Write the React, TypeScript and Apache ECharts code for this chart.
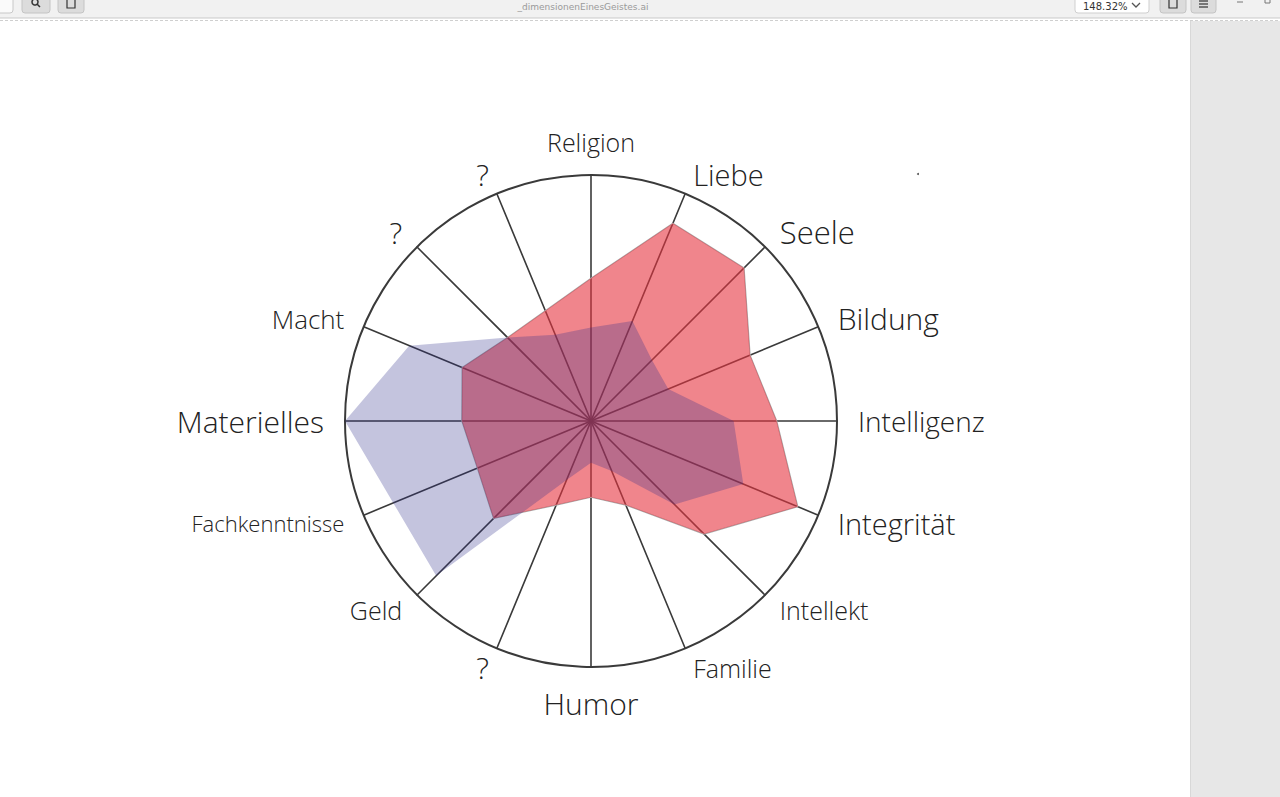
import React, { useEffect, useRef } from "react";
import * as echarts from "echarts";

// Indicators listed counter-clockwise starting at the top (ECharts radar order)
const indicators = [
  "Religion", "?", "?", "Macht", "Materielles", "Fachkenntnisse", "Geld", "?",
  "Humor", "Familie", "Intellekt", "Integrität", "Intelligenz", "Bildung", "Seele", "Liebe",
];

// Values (0..1 of radius), same order as indicators
const redValues = [
  0.58, 0.485, 0.48, 0.567, 0.525, 0.50, 0.56, 0.37,
  0.31, 0.37, 0.65, 0.91, 0.755, 0.70, 0.88, 0.87,
];
const purpleValues = [
  0.38, 0.38, 0.48, 0.80, 1.0, 0.87, 0.89, 0.26,
  0.17, 0.22, 0.48, 0.67, 0.58, 0.34, 0.35, 0.44,
];

const labelSizes: Record<string, number> = {
  Religion: 25, "?": 30, Macht: 26, Materielles: 30, Fachkenntnisse: 22, Geld: 25,
  Humor: 30, Familie: 25, Intellekt: 25, "Integrität": 29, Intelligenz: 28,
  Bildung: 30, Seele: 31, Liebe: 29,
};

const fileTitle = "_dimensionenEinesGeistes.ai";
const zoomText = "148.32%";

export default function App() {
  const ref = useRef<HTMLDivElement>(null);
  useEffect(() => {
    if (!ref.current) return;
    const chart = echarts.init(ref.current, null, { renderer: "svg" });
    const rich: Record<string, any> = {};
    Object.keys(labelSizes).forEach((k, i) => {
      rich["s" + i] = {
        fontSize: labelSizes[k],
        fontFamily: "Open Sans, DejaVu Sans, sans-serif",
        fontWeight: 300,
        color: "#222",
      };
    });
    const keyOf = (name: string) => "s" + Object.keys(labelSizes).indexOf(name);
    chart.setOption({
      animation: false,
      backgroundColor: "#ffffff",
      radar: {
        center: [591, 421],
        radius: 246,
        startAngle: 90,
        shape: "circle",
        splitNumber: 1,
        nameGap: 21,
        indicator: indicators.map((n) => ({ name: n, min: 0, max: 1 })),
        axisName: {
          color: "#222",
          fontFamily: "Open Sans, DejaVu Sans, sans-serif",
          fontWeight: 300,
          formatter: (v: string) => `{${keyOf(v)}|${v}}`,
          rich,
        },
        axisLine: { lineStyle: { color: "#3a3a3a", width: 1.6 } },
        splitLine: { lineStyle: { color: "#3a3a3a", width: 2 } },
        splitArea: { show: false },
        axisTick: { show: false },
        axisLabel: { show: false },
      },
      series: [
        {
          type: "radar",
          symbol: "none",
          silent: true,
          data: [
            {
              value: redValues,
              lineStyle: { color: "#ababab", width: 1.2 },
              areaStyle: { color: "rgba(230,52,63,0.6)", opacity: 1 },
            },
            {
              value: purpleValues,
              lineStyle: { width: 0, color: "rgba(0,0,0,0)" },
              areaStyle: { color: "rgba(44,44,137,0.28)", opacity: 1 },
            },
          ],
        },
      ],
      graphic: [
        // toolbar
        { type: "rect", shape: { x: 0, y: 0, width: 1280, height: 18 }, style: { fill: "#f1f1f1" }, silent: true },
        { type: "line", shape: { x1: 0, y1: 18, x2: 1280, y2: 18 }, style: { stroke: "#c9c9c9", lineWidth: 1 }, silent: true },
        { type: "line", shape: { x1: 0, y1: 20.5, x2: 1280, y2: 20.5 }, style: { stroke: "#cfcfcf", lineWidth: 1, lineDash: [3, 2] }, silent: true },
        { type: "rect", shape: { x: -6, y: -6, width: 19, height: 19, r: 3 }, style: { fill: "#fafafa", stroke: "#c8c8c8" }, silent: true },
        { type: "rect", shape: { x: 22, y: -6, width: 28, height: 19, r: 3 }, style: { fill: "#dcdcdc", stroke: "#c4c4c4" }, silent: true },
        { type: "circle", shape: { cx: 35, cy: 2, r: 3 }, style: { fill: "none", stroke: "#333", lineWidth: 1.5 }, silent: true },
        { type: "line", shape: { x1: 37, y1: 4, x2: 40, y2: 7 }, style: { stroke: "#333", lineWidth: 1.5 }, silent: true },
        { type: "rect", shape: { x: 58, y: -6, width: 26, height: 19, r: 3 }, style: { fill: "#dcdcdc", stroke: "#c4c4c4" }, silent: true },
        { type: "rect", shape: { x: 67, y: -2, width: 8, height: 10 }, style: { fill: "none", stroke: "#333", lineWidth: 1.2 }, silent: true },
        { type: "text", x: 583, y: 7, style: { text: fileTitle, fill: "#9a9a9a", fontSize: 9, fontFamily: "DejaVu Sans, sans-serif", align: "center", verticalAlign: "middle" }, silent: true },
        { type: "rect", shape: { x: 1075, y: -6, width: 74, height: 19, r: 3 }, style: { fill: "#ffffff", stroke: "#cfcfcf" }, silent: true },
        { type: "text", x: 1083, y: 6, style: { text: zoomText, fill: "#333", fontSize: 10, fontFamily: "DejaVu Sans, sans-serif", align: "left", verticalAlign: "middle" }, silent: true },
        { type: "polyline", shape: { points: [[1132, 3], [1136, 7], [1140, 3]] }, style: { fill: "none", stroke: "#555", lineWidth: 1.3 }, silent: true },
        { type: "rect", shape: { x: 1160, y: -6, width: 26, height: 19, r: 3 }, style: { fill: "#dcdcdc", stroke: "#c4c4c4" }, silent: true },
        { type: "rect", shape: { x: 1169, y: -2, width: 8, height: 10 }, style: { fill: "none", stroke: "#333", lineWidth: 1.2 }, silent: true },
        { type: "rect", shape: { x: 1191, y: -6, width: 25, height: 19, r: 3 }, style: { fill: "#dcdcdc", stroke: "#c4c4c4" }, silent: true },
        { type: "line", shape: { x1: 1199, y1: 1, x2: 1208, y2: 1 }, style: { stroke: "#333", lineWidth: 1.2 }, silent: true },
        { type: "line", shape: { x1: 1199, y1: 4, x2: 1208, y2: 4 }, style: { stroke: "#333", lineWidth: 1.2 }, silent: true },
        { type: "line", shape: { x1: 1199, y1: 7, x2: 1208, y2: 7 }, style: { stroke: "#333", lineWidth: 1.2 }, silent: true },
        { type: "line", shape: { x1: 1237, y1: 2, x2: 1243, y2: 2 }, style: { stroke: "#777", lineWidth: 1 }, silent: true },
        { type: "rect", shape: { x: 1265, y: -3, width: 5, height: 6 }, style: { fill: "none", stroke: "#777", lineWidth: 1 }, silent: true },
        // right side panel
        { type: "rect", shape: { x: 1190, y: 21, width: 90, height: 776 }, style: { fill: "#e7e7e7" }, silent: true },
        { type: "line", shape: { x1: 1190.5, y1: 21, x2: 1190.5, y2: 797 }, style: { stroke: "#d8d8d8", lineWidth: 1 }, silent: true },
        // stray dot
        { type: "circle", shape: { cx: 918, cy: 174, r: 1 }, style: { fill: "#555" }, silent: true },
      ],
    });
    return () => chart.dispose();
  }, []);
  return (
    <div
      ref={ref}
      style={{ position: "fixed", left: 0, top: 0, width: 1280, height: 797 }}
    />
  );
}
